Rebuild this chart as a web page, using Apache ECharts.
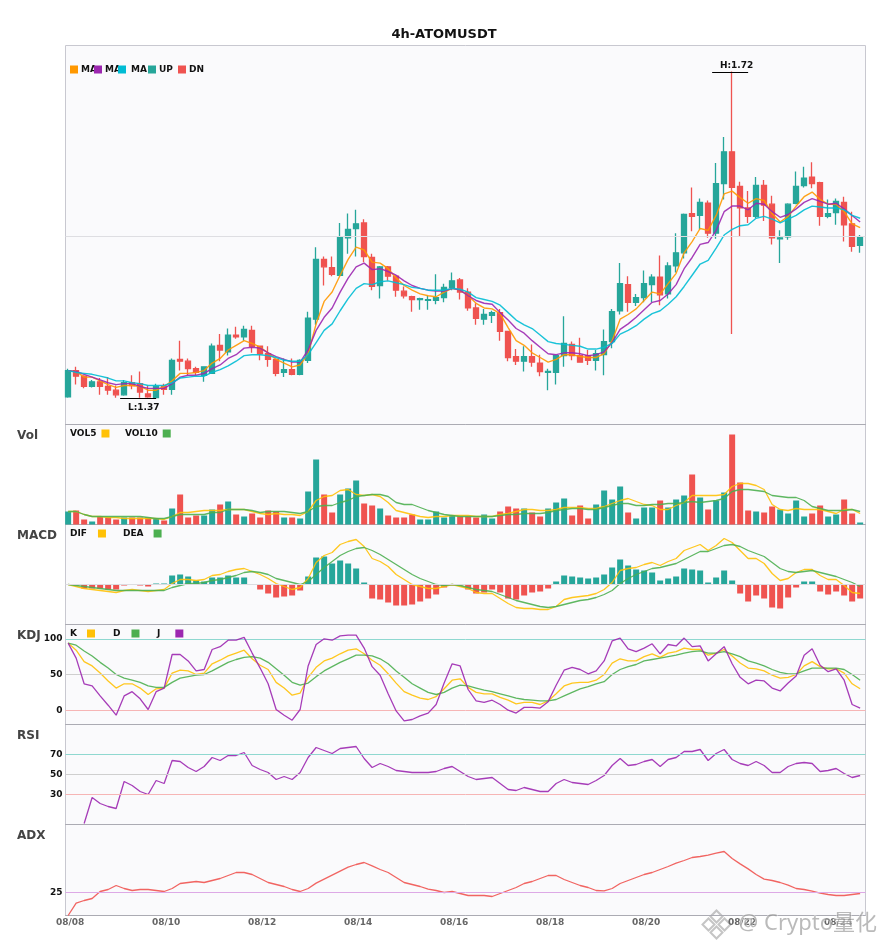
<!DOCTYPE html>
<html><head><meta charset="utf-8">
<style>html,body{margin:0;padding:0;background:#fff}#c{width:885px;height:950px}</style>
<script src="https://cdn.jsdelivr.net/npm/echarts@6/dist/echarts.min.js"></script>
</head><body><div id="c"></div>
<script>
const tickLabels=['08/08','08/10','08/12','08/14','08/16','08/18','08/20','08/22','08/24'];
const opens=[1.372,1.400,1.394,1.383,1.388,1.383,1.379,1.374,1.387,1.386,
1.375,1.371,1.383,1.380,1.412,1.410,1.402,1.395,1.397,1.427,
1.420,1.438,1.436,1.443,1.426,1.418,1.412,1.398,1.401,1.396,
1.411,1.455,1.519,1.510,1.502,1.542,1.552,1.558,1.521,1.491,
1.511,1.501,1.485,1.479,1.476,1.475,1.475,1.478,1.489,1.497,
1.484,1.467,1.455,1.459,1.462,1.442,1.415,1.410,1.415,1.408,
1.398,1.398,1.416,1.428,1.416,1.416,1.411,1.417,1.431,1.464,
1.492,1.473,1.478,1.492,1.500,1.482,1.512,1.526,1.568,1.566,
1.579,1.547,1.600,1.634,1.597,1.574,1.565,1.598,1.578,1.541,
1.543,1.579,1.598,1.607,1.601,1.565,1.569,1.580,1.557,1.534];
const closes=[1.400,1.394,1.383,1.388,1.383,1.379,1.374,1.387,1.384,1.377,
1.372,1.383,1.380,1.411,1.410,1.402,1.398,1.404,1.426,1.422,
1.438,1.436,1.444,1.426,1.418,1.412,1.397,1.401,1.396,1.411,
1.456,1.519,1.511,1.503,1.543,1.551,1.557,1.522,1.490,1.511,
1.501,1.486,1.480,1.476,1.477,1.476,1.478,1.489,1.496,1.484,
1.467,1.456,1.460,1.462,1.442,1.414,1.410,1.415,1.409,1.399,
1.399,1.416,1.429,1.416,1.409,1.411,1.418,1.431,1.463,1.493,
1.473,1.478,1.493,1.500,1.481,1.512,1.526,1.567,1.565,1.580,
1.547,1.600,1.634,1.596,1.574,1.565,1.598,1.577,1.542,1.542,
1.578,1.597,1.606,1.600,1.565,1.568,1.581,1.556,1.533,1.543];
const lows=[1.371,1.385,1.381,1.382,1.374,1.374,1.371,1.373,1.380,1.371,
1.371,1.371,1.374,1.374,1.400,1.395,1.395,1.388,1.397,1.410,
1.416,1.434,1.432,1.419,1.411,1.404,1.394,1.393,1.395,1.395,
1.408,1.449,1.491,1.501,1.501,1.525,1.522,1.516,1.486,1.477,
1.496,1.479,1.477,1.463,1.465,1.465,1.471,1.473,1.486,1.476,
1.464,1.449,1.449,1.451,1.432,1.410,1.406,1.399,1.404,1.394,
1.379,1.385,1.404,1.411,1.409,1.406,1.400,1.395,1.424,1.460,
1.463,1.469,1.473,1.473,1.470,1.477,1.505,1.520,1.549,1.551,
1.542,1.541,1.583,1.439,1.543,1.558,1.563,1.560,1.535,1.515,
1.540,1.578,1.596,1.595,1.555,1.563,1.556,1.538,1.527,1.526];
const highs=[1.402,1.404,1.395,1.390,1.392,1.393,1.384,1.390,1.395,1.399,
1.384,1.386,1.386,1.413,1.432,1.413,1.404,1.404,1.429,1.439,
1.445,1.447,1.448,1.448,1.426,1.426,1.412,1.413,1.413,1.412,
1.463,1.532,1.522,1.522,1.558,1.568,1.572,1.562,1.525,1.512,
1.512,1.502,1.490,1.480,1.478,1.480,1.503,1.493,1.505,1.499,
1.488,1.472,1.466,1.464,1.466,1.442,1.423,1.426,1.428,1.417,
1.402,1.417,1.458,1.431,1.435,1.422,1.422,1.444,1.466,1.515,
1.501,1.482,1.507,1.503,1.523,1.516,1.547,1.568,1.596,1.584,
1.582,1.622,1.650,1.720,1.602,1.592,1.607,1.604,1.587,1.550,
1.579,1.613,1.618,1.623,1.602,1.583,1.584,1.586,1.570,1.545];
const ma5=[1.400,1.399,1.393,1.393,1.389,1.385,1.382,1.384,1.384,1.383,
1.379,1.379,1.383,1.389,1.397,1.397,1.398,1.400,1.408,1.413,
1.422,1.427,1.432,1.429,1.425,1.419,1.412,1.408,1.404,1.406,
1.418,1.450,1.474,1.484,1.502,1.519,1.532,1.529,1.516,1.515,
1.509,1.499,1.491,1.486,1.482,1.480,1.479,1.484,1.488,1.486,
1.480,1.472,1.467,1.466,1.461,1.446,1.432,1.427,1.419,1.414,
1.409,1.412,1.417,1.417,1.415,1.414,1.414,1.418,1.432,1.455,
1.460,1.466,1.475,1.484,1.482,1.493,1.504,1.526,1.538,1.552,
1.550,1.566,1.589,1.592,1.585,1.579,1.584,1.582,1.568,1.559,
1.565,1.576,1.586,1.591,1.583,1.578,1.578,1.570,1.557,1.553];
const ma10=[1.400,1.399,1.396,1.393,1.390,1.387,1.385,1.386,1.386,1.383,
1.381,1.381,1.381,1.386,1.393,1.395,1.395,1.397,1.402,1.406,
1.413,1.417,1.424,1.425,1.424,1.419,1.415,1.412,1.409,1.409,
1.422,1.443,1.457,1.467,1.484,1.499,1.511,1.515,1.508,1.509,
1.506,1.502,1.496,1.491,1.488,1.486,1.485,1.485,1.488,1.486,
1.480,1.475,1.472,1.471,1.462,1.454,1.445,1.440,1.432,1.425,
1.418,1.417,1.419,1.419,1.418,1.416,1.417,1.420,1.430,1.444,
1.450,1.457,1.465,1.473,1.475,1.482,1.492,1.509,1.521,1.535,
1.537,1.550,1.570,1.576,1.576,1.572,1.579,1.578,1.570,1.564,
1.567,1.573,1.580,1.584,1.581,1.578,1.579,1.573,1.566,1.559];
const ma20=[1.400,1.398,1.397,1.396,1.394,1.392,1.389,1.389,1.387,1.386,
1.384,1.384,1.384,1.387,1.392,1.393,1.394,1.394,1.398,1.401,
1.405,1.410,1.416,1.417,1.417,1.416,1.414,1.411,1.410,1.410,
1.417,1.430,1.443,1.450,1.464,1.477,1.488,1.493,1.492,1.495,
1.496,1.494,1.492,1.489,1.488,1.486,1.486,1.486,1.488,1.487,
1.484,1.478,1.476,1.474,1.470,1.462,1.454,1.449,1.445,1.438,
1.431,1.429,1.428,1.427,1.426,1.423,1.423,1.425,1.429,1.439,
1.443,1.448,1.455,1.461,1.464,1.471,1.479,1.490,1.502,1.514,
1.518,1.531,1.545,1.551,1.555,1.556,1.563,1.565,1.562,1.558,
1.562,1.566,1.572,1.576,1.575,1.574,1.574,1.572,1.566,1.563];
const volumes=[13,14,5,3,8,7,5,7,7,7,
7,6,4,16,30,7,9,9,15,20,
23,10,8,11,7,14,13,7,7,6,
33,65,30,12,30,36,44,21,19,16,
9,7,7,10,5,5,13,7,9,8,
8,7,10,6,13,18,16,16,12,8,
16,22,26,9,19,6,20,34,25,38,
12,6,17,17,24,17,25,29,50,27,
15,24,32,90,42,14,13,12,18,15,
11,24,8,11,19,8,10,25,11,2];
const vol5=[13,13,10,8,8,7,7,6,6,6,
6,6,5,8,12,12,13,14,14,14,
15,15,15,13,11,10,11,10,10,9,
13,24,28,29,34,35,30,29,30,28,
22,14,12,10,8,7,8,8,9,9,
9,8,8,8,10,11,13,15,15,14,
14,15,17,17,17,16,16,18,21,24,
26,23,20,19,15,15,19,22,29,29,
29,29,30,38,41,41,39,35,20,15,
14,16,15,15,15,13,11,15,15,11];
const vol10=[13,13,10,8,8,8,8,8,8,8,
7,6,6,8,10,10,10,10,12,12,
15,15,15,14,12,13,13,13,12,11,
13,18,19,19,22,24,28,29,30,30,
28,22,20,20,17,14,12,10,9,8,
8,8,8,8,9,10,10,11,11,11,
12,14,15,16,16,15,15,17,19,21,
21,19,19,20,20,21,21,22,23,22,
23,24,26,33,35,35,34,33,29,28,
27,27,24,18,16,14,14,14,15,13];
const macdHist=[0,-1,-4,-4,-4,-5,-5,-1,0,-1,
-2,1,1,9,10,8,4,3,7,7,
9,7,7,0,-5,-9,-13,-12,-11,-6,
8,27,28,21,24,21,16,2,-14,-15,
-18,-21,-21,-20,-17,-14,-10,-3,-1,-1,
-5,-9,-8,-5,-8,-14,-15,-11,-8,-7,
-4,3,9,8,7,6,7,10,17,25,
19,15,14,12,4,6,8,16,15,14,
2,7,14,4,-9,-17,-11,-14,-23,-24,
-13,-3,3,3,-7,-10,-7,-11,-17,-14];
const dif=[0,-2,-4,-5,-6,-7,-8,-6,-5,-6,
-7,-6,-5,1,5,5,4,5,9,10,
13,15,16,13,10,6,1,-2,-5,-3,
6,22,29,32,40,43,45,38,26,23,
18,10,5,0,-2,-4,-4,-2,0,-2,
-4,-8,-9,-9,-14,-19,-23,-24,-24,-25,
-25,-22,-15,-13,-12,-11,-9,-5,2,14,
16,17,20,22,19,23,26,34,37,40,
34,39,46,42,34,26,26,21,11,4,
6,12,15,15,9,5,5,-1,-8,-9];
const dea=[0,-1,-2,-3,-4,-5,-6,-6,-6,-6,
-6,-6,-6,-3,-1,1,1,2,4,5,
7,9,12,13,12,10,6,4,2,0,
3,10,17,23,29,33,36,37,34,30,
25,20,15,10,6,3,0,-1,0,-1,
-3,-5,-6,-7,-10,-13,-16,-18,-20,-22,
-23,-22,-20,-18,-16,-15,-13,-10,-6,1,
6,10,13,16,17,19,21,25,29,33,
33,36,39,40,38,34,31,28,22,16,
13,12,13,14,12,10,8,5,2,-2];
const kdjK=[94,84,68,62,52,41,31,37,37,31,
22,30,31,52,56,55,50,52,65,70,
76,80,84,72,63,57,39,31,21,24,
46,60,69,73,79,84,86,79,70,63,
51,38,26,21,17,15,19,30,42,44,
32,25,23,23,18,14,9,11,11,8,
13,23,34,38,39,39,42,50,66,72,
69,69,75,79,74,80,82,87,85,85,
77,80,85,76,66,59,58,55,49,45,
46,50,62,68,61,58,58,52,37,30];
const kdjD=[94,91,83,76,67,59,50,45,42,39,
34,32,32,39,45,47,49,50,55,61,
67,71,74,75,73,67,58,49,39,35,
38,47,55,61,67,72,77,77,76,72,
65,55,46,37,31,25,22,25,31,35,
34,31,28,26,23,20,17,15,14,13,
13,15,20,25,30,33,37,40,50,57,
61,64,69,71,73,75,77,80,82,83,
80,80,82,79,75,69,66,62,57,53,
51,51,55,59,59,59,59,57,50,42];
const kdjJ=[94,73,37,34,20,7,-7,20,26,16,
1,26,31,78,78,69,55,57,85,89,
98,98,102,80,59,37,1,-7,-14,1,
62,92,100,98,104,105,105,87,61,49,
23,-1,-15,-13,-8,-4,8,38,65,62,
29,13,11,14,8,0,-4,4,4,3,
12,35,56,60,57,51,55,69,97,101,
86,82,87,93,79,92,90,101,89,90,
69,79,89,65,46,37,42,41,31,27,
38,48,77,86,63,54,58,42,8,3];
const rsi=[null,null,1,27,21,18,16,43,39,33,
30,44,41,64,63,57,53,58,67,64,
69,69,72,59,55,52,45,48,45,52,
67,77,74,71,76,77,78,66,57,61,
58,54,53,52,52,52,53,56,58,53,
48,45,46,47,41,35,34,37,35,33,
33,41,45,42,41,40,44,49,59,66,
59,60,63,65,58,65,67,73,73,75,
64,71,75,65,61,59,63,59,52,52,
58,61,62,61,53,54,56,51,47,49];
const adx=[13.5,19.7,21,22,25.5,26.5,28.5,27,26,26.5,
26.5,26,25.5,27,29.5,30,30.5,30,31,32,
33.5,35,35,34,32,30,29,28,26.5,25.5,
27,29.7,31.7,33.7,35.7,37.7,39,40,38.3,36.5,
35,32.5,30,29,28,26.7,26,25,25.5,24.5,
23.5,23.5,23.5,23,24.5,26,27.5,29.5,30.5,32,
33.5,33.5,31.5,30,28.5,27.5,26,25.8,27,29.5,
31,32.5,34,35,36.5,38,39.7,41,42.5,43,
43.7,44.7,45.5,42,39.3,36.8,34,31.7,31,30,
28.7,27,26.5,25.7,24.7,24,23.5,23.5,24,24.5];
const highText='H:1.72', lowText='L:1.37', highPrice=1.72, lowPrice=1.37;

const UP='#26A69A',DN='#EF5350',ORANGE='#FF9800',PURPLE='#9C27B0',CYAN='#00BCD4',YEL='#FFC107',GRN='#4CAF50';
const TEAL_LINE='#8FD8D0',GREY_LINE='#cfcfcf',PINK_LINE='#F6B5B5',LILAC_LINE='#DDA9E6';
const FONT='DejaVu Sans';
const L=65.5,W=800;
const panels=[[45.5,379],[424.5,100],[524.5,100],[624.5,100],[724.5,100],[824.5,91]];
const yRanges=[[1.3423,1.7478],[0,100],[-40,60],[-20,120],[0,100],[13.5,59]];
const yLabels=[null,null,null,[0,50,100],[30,50,70],[25]];
const panelTitles=[['Vol',430],['MACD',530],['KDJ',630],['RSI',730],['ADX',830]];

const xy=a=>a.map((v,i)=>[i,v]);
const line=(name,data,grid,color,width,extra)=>Object.assign({
  name,type:'line',data:xy(data),xAxisIndex:grid,yAxisIndex:grid,symbol:'none',showSymbol:false,
  connectNulls:false,lineStyle:{color,width:width||1.3,opacity:.9},itemStyle:{color},silent:true,z:4},extra||{});
const refLines=items=>({symbol:'none',silent:true,animation:false,precision:4,label:{show:false},
  data:items.map(([v,c])=>({yAxis:v,lineStyle:{color:c,width:1,type:'solid',opacity:1}}))});

const series=[
 {name:'Candles',type:'candlestick',xAxisIndex:0,yAxisIndex:0,barWidth:5.7,silent:true,z:3,
  data:opens.map((o,i)=>[i,o,closes[i],lows[i],highs[i]]),
  itemStyle:{color:UP,color0:DN,borderColor:UP,borderColor0:DN,borderWidth:1.3}},
 line('MA5',ma5,0,ORANGE,1.4),line('MA10',ma10,0,PURPLE,1.4),
 line('MA20',ma20,0,CYAN,1.4,{
  markLine:{symbol:'none',silent:true,precision:4,label:{show:false},data:[
    {yAxis:1.5434,lineStyle:{color:'#dedee2',width:1,type:'solid',opacity:1}},
    [{coord:[80.5,highPrice-0.001],lineStyle:{color:'#000',width:1,type:'solid',opacity:1}},{coord:[85,highPrice-0.001]}],
    [{coord:[6.5,lowPrice],lineStyle:{color:'#000',width:1,type:'solid',opacity:1}},{coord:[11,lowPrice]}]
  ]},
  markPoint:{symbol:'rect',symbolSize:0,silent:true,data:[
    {coord:[83.56,1.7265],label:{formatter:highText}},
    {coord:[9.44,1.3605],label:{formatter:lowText}}],
    label:{show:true,position:'inside',color:'#111',fontFamily:FONT,fontWeight:'bold',fontSize:9}}}),
 {name:'UP',type:'bar',data:[],xAxisIndex:0,yAxisIndex:0,itemStyle:{color:UP}},
 {name:'DN',type:'bar',data:[],xAxisIndex:0,yAxisIndex:0,itemStyle:{color:DN}},
 {name:'Volume',type:'bar',data:xy(volumes),xAxisIndex:1,yAxisIndex:1,barWidth:6,silent:true,
  itemStyle:{color:p=>closes[p.dataIndex]>=opens[p.dataIndex]?UP:DN}},
 line('VOL5',vol5,1,YEL),line('VOL10',vol10,1,GRN),
 {name:'MACD',type:'bar',data:xy(macdHist),xAxisIndex:2,yAxisIndex:2,barWidth:6,silent:true,
  itemStyle:{color:p=>p.value[1]>=0?UP:DN},
  markLine:refLines([[0,'#dcdce0']])},
 line('DIF',dif,2,YEL),line('DEA',dea,2,GRN),
 line('KDJ K',kdjK,3,YEL),line('KDJ D',kdjD,3,GRN),
 line('KDJ J',kdjJ,3,PURPLE,1.3,{markLine:refLines([[100,TEAL_LINE],[50,GREY_LINE],[0,PINK_LINE]]),z:5}),
 line('RSI',rsi,4,PURPLE,1.3,{markLine:refLines([[70,TEAL_LINE],[50,GREY_LINE],[30,PINK_LINE]])}),
 line('ADX',adx,5,DN,1.3,{markLine:refLines([[25,LILAC_LINE]])})
];

const lg=(name,left,top,label,align,pad,z)=>({
  show:true,data:[name],left,top,padding:0,itemGap:0,itemWidth:8,itemHeight:8,icon:'rect',
  orient:'horizontal',selectedMode:false,align:align||'left',z:z||20,
  formatter:()=>label,
  textStyle:{color:'#111',fontFamily:FONT,fontWeight:'bold',fontSize:9,lineHeight:9,padding:pad||0}
});
const legends=[
 lg('MA5',70,65,'MA','left',[0,0,0,-2],20),lg('MA10',94,65,'MA','left',[0,0,0,-2],21),lg('MA20',118,65,'MA','left',0,22),
 lg('UP',148,65,'UP','left',[0,0,0,-2],23),lg('DN',178,65,'DN','left',[0,0,0,-2],24),
 lg('VOL5',70,429,'VOL5','right'),lg('VOL10',125,429,'VOL10','right'),
 lg('DIF',70,529,'DIF','right',[0,6,0,0]),lg('DEA',123,529,'DEA','right',[0,5,0,0]),
 lg('KDJ K',70,629,'K','right',[0,5,0,0]),lg('KDJ D',113,629,'D','right',[0,6,0,0]),lg('KDJ J',157,629,'J','right',[0,10,0,0])
];

const option={
 animation:false,backgroundColor:'#fff',
 textStyle:{fontFamily:FONT},
 title:[{text:'4h-ATOMUSDT',left:444,top:28,textAlign:'center',padding:0,
   textStyle:{fontFamily:FONT,fontSize:13,fontWeight:'bold',color:'#111'}}]
   .concat(panelTitles.map(([t,y])=>({text:t,left:17,top:y,padding:0,
     textStyle:{fontFamily:FONT,fontSize:12,fontWeight:'bold',color:'#444'}}))),
 legend:legends,
 grid:panels.map(([t,h])=>({left:L,width:W,top:t,height:h,show:true,containLabel:false,
   backgroundColor:'#FAFAFC',borderColor:'#C8C8D0',borderWidth:1})),
 xAxis:panels.map((p,i)=>({type:'value',gridIndex:i,min:-0.33,max:99.67,
   splitLine:{show:false},axisLine:{show:true,onZero:false,lineStyle:{color:'#ABABB3',width:1}},axisTick:{show:false},
   axisLabel:i===5?{show:true,customValues:tickLabels.map((_,k)=>k*12),
     formatter:v=>tickLabels[Math.round(v/12)],color:'#666',fontFamily:FONT,fontWeight:'bold',fontSize:9,
     margin:3,padding:[0,0,0,4],showMinLabel:true,showMaxLabel:true,hideOverlap:false}:{show:false}})),
 yAxis:panels.map((p,i)=>({type:'value',gridIndex:i,min:yRanges[i][0],max:yRanges[i][1],
   splitLine:{show:false},axisLine:{show:false},axisTick:{show:false},
   axisLabel:yLabels[i]?{show:true,customValues:yLabels[i],color:'#111',fontFamily:FONT,fontWeight:'bold',fontSize:9,margin:3}:{show:false}})),
 series,
 graphic:[
  {type:'group',left:700,top:908,z:50,silent:true,children:[
    {type:'polygon',shape:{points:[[14,0],[20,6],[14,12],[8,6]]},style:{fill:'none',stroke:'rgba(140,140,140,.5)',lineWidth:2}},
    {type:'polygon',shape:{points:[[6,8],[12,14],[6,20],[0,14]]},style:{fill:'none',stroke:'rgba(140,140,140,.5)',lineWidth:2}},
    {type:'polygon',shape:{points:[[22,8],[28,14],[22,20],[16,14]]},style:{fill:'none',stroke:'rgba(140,140,140,.5)',lineWidth:2}},
    {type:'polygon',shape:{points:[[14,16],[20,22],[14,28],[8,22]]},style:{fill:'none',stroke:'rgba(140,140,140,.5)',lineWidth:2}}
  ]},
  {type:'text',left:738,top:912,z:50,silent:true,style:{text:'@ Crypto量化',fontFamily:'"Noto Sans","Noto Sans CJK SC"',fontSize:22,
    fill:'rgba(130,130,130,.55)',stroke:'rgba(255,255,255,.6)',lineWidth:1}}
 ]
};
echarts.init(document.getElementById('c')).setOption(option);
</script></body></html>
